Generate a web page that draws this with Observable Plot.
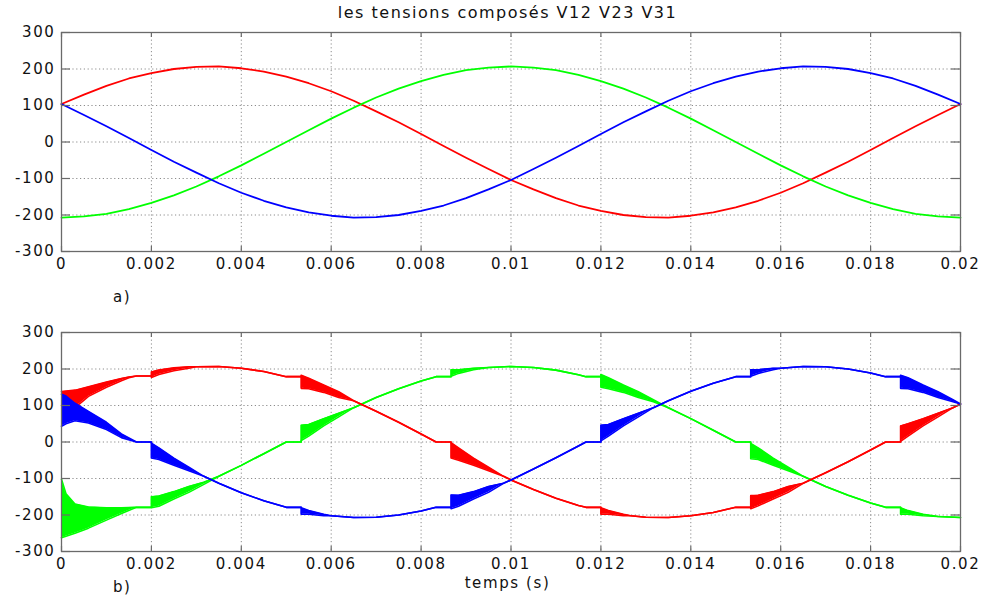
<!DOCTYPE html>
<html><head><meta charset="utf-8">
<script src="https://cdn.jsdelivr.net/npm/d3@7"></script>
<script src="https://cdn.jsdelivr.net/npm/@observablehq/plot@0.6"></script>
<style>
body{margin:0;background:#fff;}
#wrap{position:relative;width:983px;height:601px;overflow:hidden;font-family:"DejaVu Sans",sans-serif;background:#fff;}
.lbl{position:absolute;font-size:15px;letter-spacing:1.6px;color:#111;white-space:nowrap;line-height:18px;}
.pl{position:absolute;left:0;}
</style></head><body>
<div id="wrap">
  <div class="lbl" style="left:0;width:1015px;text-align:center;top:4px;font-size:16px;letter-spacing:1.5px">les tensions composés V12 V23 V31</div>
  <div class="pl" id="p1" style="top:0"></div>
  <div class="pl" id="p2" style="top:290px"></div>
  <div class="lbl" style="left:113px;top:288px">a)</div>
  <div class="lbl" style="left:113px;top:578px">b)</div>
  <div class="lbl" style="left:0;width:1015px;text-align:center;top:574px">temps (s)</div>
</div>
<script>
// x in milliseconds; tick labels in seconds
const xTicks = [0,2,4,6,8,10,12,14,16,18,20];
const xTickLabels = ["0","0.002","0.004","0.006","0.008","0.01","0.012","0.014","0.016","0.018","0.02"];
const yTicks = [-300,-200,-100,0,100,200,300];
const yTickLabels = ["-300","-200","-100","0","100","200","300"];

// a) ideal line voltages (ms, V)
const tTop = [0,0.5,1,1.5,2,2.5,3,3.5,4,4.5,5,5.5,6,6.5,7,7.5,8,8.5,9,9.5,10,10.5,11,11.5,12,12.5,13,13.5,14,14.5,15,15.5,16,16.5,17,17.5,18,18.5,19,19.5,20];
const v12Top = [104,130,154,174,189,200,206,207,202,193,179,161,139,113,84,54,22,-11,-43,-74,-104,-130,-154,-174,-189,-200,-206,-207,-202,-193,-179,-161,-139,-113,-84,-54,-22,11,43,74,104];
const v23Top = [-207,-204,-197,-184,-167,-146,-122,-94,-64,-32,0,32,64,94,122,146,167,184,197,204,207,204,197,184,167,146,122,94,64,32,0,-32,-64,-94,-122,-146,-167,-184,-197,-204,-207];
const v31Top = [104,74,43,11,-22,-54,-84,-113,-139,-161,-179,-193,-202,-207,-206,-200,-189,-174,-154,-130,-104,-74,-43,-11,22,54,84,113,139,161,179,193,202,207,206,200,189,174,154,130,104];

// b) inverter line voltages: [t(ms), value] or [t(ms), low envelope, high envelope] of the ringing
const v12Bot = [
[0,100,138],[0.31,95,142],[0.6,125,151],[1.0,150,164],[1.333,168,174],[1.5,176,178],
[1.667,181],[2.0,181],[2.0,177,192],[2.167,185,197],[2.5,195,203],[2.833,202,206],[3.0,206],[3.5,207],[4.0,202],[4.5,193],
[5.0,179],[5.333,179],[5.333,147,183],[5.5,146,175],[5.833,136,156],[6.167,122,138],[6.5,113],[7.0,84],[7.5,54],[8.0,22],
[8.333,0],[8.667,0],[8.667,-44,-2],[8.833,-50,-16],[9.167,-64,-44],[9.5,-79,-69],[9.833,-94],[10.0,-104],[10.5,-130],[11.0,-154],[11.5,-174],
[11.667,-179],[12.0,-179],[12.0,-198,-180],[12.167,-198,-188],[12.5,-202,-198],[12.667,-202],[13.0,-206],[13.5,-207],[14.0,-202],[14.5,-193],
[15.0,-179],[15.333,-179],[15.333,-183,-147],[15.5,-175,-146],[15.833,-156,-136],[16.167,-138,-122],[16.5,-113],[17.0,-84],[17.5,-54],[18.0,-22],
[18.333,0],[18.667,0],[18.667,2,44],[18.833,16,50],[19.167,44,64],[19.5,69,79],[19.833,94],[20,104]
];
const v23Bot = [
[0,-262,-102],[0.1,-258,-142],[0.3,-250,-170],[0.6,-236,-178],[1.0,-214,-180],[1.333,-196,-180],
[1.667,-179],[2.0,-179],[2.0,-180,-150],[2.167,-176,-148],[2.5,-156,-136],[2.833,-138,-122],[3.167,-116,-110],[3.5,-94],[4.0,-64],[4.5,-32],
[5.0,0],[5.333,0],[5.333,4,46],[5.5,16,48],[5.833,44,64],[6.167,69,79],[6.5,94],[7.0,122],[7.5,146],[8.0,167],
[8.333,179],[8.667,179],[8.667,180,198],[8.833,188,198],[9.167,198,202],[9.5,204],[10.0,207],[10.5,204],[11.0,197],[11.5,184],
[11.667,179],[12.0,179],[12.0,150,185],[12.167,146,176],[12.5,136,156],[12.833,122,138],[13.167,110,116],[13.5,94],[14.0,64],[14.5,32],
[15.0,0],[15.333,0],[15.333,-46,-4],[15.5,-48,-16],[15.833,-64,-44],[16.167,-79,-69],[16.5,-94],[17.0,-122],[17.5,-146],[18.0,-167],
[18.333,-179],[18.667,-179],[18.667,-198,-180],[18.833,-198,-188],[19.167,-202,-198],[19.5,-204],[20,-207]
];
const v31Bot = [
[0,43,131],[0.1,50,126],[0.3,58,106],[0.6,52,84],[1.0,34,54],[1.333,12,22],
[1.667,0],[2.0,0],[2.0,-44,-3],[2.167,-48,-16],[2.5,-64,-44],[2.833,-79,-69],[3.167,-94],[3.5,-113],[4.0,-139],[4.5,-161],
[5.0,-179],[5.333,-179],[5.333,-198,-180],[5.5,-198,-188],[5.833,-202,-198],[6.0,-202],[6.5,-207],[7.0,-206],[7.5,-200],[8.0,-189],
[8.333,-179],[8.667,-179],[8.667,-183,-145],[8.833,-176,-146],[9.167,-156,-136],[9.5,-138,-122],[9.833,-113],[10.0,-104],[10.5,-74],[11.0,-43],[11.5,-11],
[11.667,0],[12.0,0],[12.0,3,46],[12.167,16,48],[12.5,44,64],[12.833,69,79],[13.167,94],[13.5,113],[14.0,139],[14.5,161],
[15.0,179],[15.333,179],[15.333,180,198],[15.5,188,198],[15.833,198,202],[16.0,202],[16.5,207],[17.0,206],[17.5,200],[18.0,189],
[18.333,179],[18.667,179],[18.667,147,183],[18.833,146,176],[19.167,136,156],[19.5,122,138],[19.833,110,116],[20,104]
];

const RED = "#ff0000", GREEN = "#00ff00", BLUE = "#0000ff";
const W = 983, ML = 61, MR = 23;
const axisColor = "#6a6a6a";

function gridMarks() {
  return [
    Plot.ruleX(xTicks, {stroke: "#8c8c8c", strokeDasharray: "1.2,2.6", strokeWidth: 1}),
    Plot.ruleY(yTicks, {stroke: "#8c8c8c", strokeDasharray: "1.2,2.6", strokeWidth: 1})
  ];
}
function boxMarks(ph) {
  const pw = W - ML - MR;
  return [
    Plot.frame({stroke: axisColor, strokeWidth: 1.3}),
    Plot.ruleX(xTicks, {insetTop: ph - 5, stroke: axisColor, strokeWidth: 1.2}),
    Plot.ruleX(xTicks, {insetBottom: ph - 5, stroke: axisColor, strokeWidth: 1.2}),
    Plot.ruleY(yTicks, {insetRight: pw - 9, stroke: axisColor, strokeWidth: 1.2}),
    Plot.ruleY(yTicks, {insetLeft: pw - 9, stroke: axisColor, strokeWidth: 1.2}),
    Plot.axisX({ticks: xTicks, tickSize: 0, tickPadding: 7, label: null, fill: "#111",
      tickFormat: d => xTickLabels[xTicks.indexOf(d)]}),
    Plot.axisY({ticks: yTicks, tickSize: 0, tickPadding: 6, label: null, fill: "#111",
      tickFormat: d => yTickLabels[yTicks.indexOf(d)]})
  ];
}
function base(height, mt, mb, marks) {
  const ph = height - mt - mb;
  return Plot.plot({
    width: W, height, marginLeft: ML, marginRight: MR, marginTop: mt, marginBottom: mb,
    x: {domain: [0, 20], label: null},
    y: {domain: [-300, 300], label: null},
    style: {fontFamily: "DejaVu Sans", fontSize: "15px", letterSpacing: "1.6px", background: "transparent", overflow: "visible"},
    marks: [...gridMarks(), ...marks, ...boxMarks(ph)]
  });
}

const topRows = s => tTop.map((t, i) => ({t, v: s[i]}));
const topMarks = [
  Plot.line(topRows(v12Top), {x: "t", y: "v", stroke: RED, strokeWidth: 1.8}),
  Plot.line(topRows(v23Top), {x: "t", y: "v", stroke: GREEN, strokeWidth: 1.8}),
  Plot.line(topRows(v31Top), {x: "t", y: "v", stroke: BLUE, strokeWidth: 1.8})
];
document.getElementById("p1").append(base(290, 32, 39, topMarks));

const botRows = rows => rows.map(r => ({t: r[0], lo: r[1], hi: r.length > 2 ? r[2] : r[1]}));
function bandMarks(rows, color) {
  const d = botRows(rows);
  return [
    Plot.areaY(d, {x: "t", y1: "lo", y2: "hi", fill: color}),
    Plot.line(d, {x: "t", y: "lo", stroke: color, strokeWidth: 1.6}),
    Plot.line(d, {x: "t", y: "hi", stroke: color, strokeWidth: 1.6})
  ];
}
const botMarks = [...bandMarks(v23Bot, GREEN), ...bandMarks(v12Bot, RED), ...bandMarks(v31Bot, BLUE)];
document.getElementById("p2").append(base(311, 42, 50, botMarks));
</script>
</body></html>
